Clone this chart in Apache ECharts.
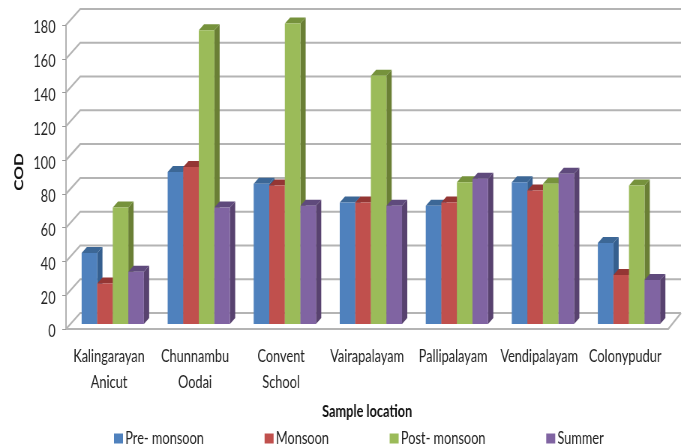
<!DOCTYPE html>
<html>
<head>
<meta charset="utf-8">
<style>
  html, body { margin: 0; padding: 0; background: #fff; overflow: hidden; }
  /* 原图被横向压缩过，这里整体压缩画布让文字也一起变窄 */
  #chart { width: 915px; height: 448px; transform: scaleX(0.75); transform-origin: 0 0; }
</style>
</head>
<body>
<div id="chart"></div>
<script src="https://cdn.jsdelivr.net/npm/echarts@6/dist/echarts.min.js"></script>
<script>
const locations = ['Kalingarayan\nAnicut', 'Chunnambu\nOodai', 'Convent\nSchool', 'Vairapalayam', 'Pallipalayam', 'Vendipalayam', 'Colonypudur'];
const preMonsoon = [42, 90, 83, 72, 70, 84, 48];
const monsoon = [24, 93, 82, 72, 72, 79, 29];
const postMonsoon = [69, 174, 178, 147, 84, 83, 82];
const summer = [31, 69, 70, 70, 86, 89, 26];
const yTicks = [0, 20, 40, 60, 80, 100, 120, 140, 160, 180];

const FONT = 'Lato, sans-serif';
// 伪 3D：后墙和柱子的纵深偏移（画布像素，横向会再乘 0.75）
const WALL_DX = 19, WALL_DY = 16;
const BAR_DX = 7, BAR_DY = 6, BAR_LIFT = 5, BAR_SHIFT = 5;

function bar3d(seriesIdx, colors) {
  return function (params, api) {
    const center = api.coord([api.value(0), 0]);
    const top = api.coord([api.value(0), api.value(1)]);
    const w = api.size([1, 0])[0] * 0.181;
    const x = center[0] + BAR_SHIFT - 2 * w + seriesIdx * w;
    const yb = center[1] - BAR_LIFT;
    const yt = top[1] - BAR_LIFT;
    return {
      type: 'group',
      children: [
        {
          type: 'polygon',
          shape: { points: [[x + w, yb], [x + w + BAR_DX, yb - BAR_DY], [x + w + BAR_DX, yt - BAR_DY], [x + w, yt]] },
          style: { fill: colors.side },
        },
        {
          type: 'polygon',
          shape: { points: [[x, yt], [x + BAR_DX, yt - BAR_DY], [x + w + BAR_DX, yt - BAR_DY], [x + w, yt]] },
          style: { fill: colors.top },
        },
        { type: 'rect', shape: { x, y: yt, width: w, height: yb - yt }, style: { fill: colors.front } },
      ],
    };
  };
}

function wallLines(params, api) {
  const cs = params.coordSys;
  const y = api.coord([0, api.value(1)])[1];
  const children = [
    {
      type: 'polyline',
      shape: { points: [[cs.x, y], [cs.x + WALL_DX, y - WALL_DY], [cs.x + cs.width + WALL_DX - 2, y - WALL_DY]] },
      style: { stroke: '#b4b4b4', lineWidth: 2, fill: null },
    },
  ];
  if (api.value(1) === 0) {
    children.push({
      type: 'line',
      shape: { x1: cs.x + cs.width, y1: y, x2: cs.x + cs.width + WALL_DX - 2, y2: y - WALL_DY },
      style: { stroke: '#b4b4b4', lineWidth: 2 },
    });
  }
  return { type: 'group', children };
}

function barSeries(name, data, idx, colors) {
  return {
    type: 'custom',
    name,
    z: 3 + idx,
    clip: false,
    itemStyle: { color: colors.front },
    renderItem: bar3d(idx, colors),
    encode: { x: 0, y: 1 },
    data: data.map((v, i) => [i, v]),
  };
}

const chart = echarts.init(document.getElementById('chart'), null, { renderer: 'canvas' });
chart.setOption({
  backgroundColor: '#fff',
  animation: false,
  grid: { left: 88, right: 24, top: 25, bottom: 119, outerBoundsMode: 'none' },
  legend: {
    data: ['Pre- monsoon', 'Monsoon', 'Post- monsoon', 'Summer'],
    left: 147,
    top: 425,
    icon: 'rect',
    itemWidth: 12,
    itemHeight: 10,
    itemGap: 81,
    textStyle: { fontFamily: FONT, fontSize: 17, color: '#222', padding: [0, 0, 0, -2] },
  },
  xAxis: {
    type: 'category',
    data: locations,
    name: 'Sample location',
    nameLocation: 'middle',
    nameGap: 74,
    nameTextStyle: { fontFamily: FONT, fontWeight: 'bold', fontSize: 17, color: '#111' },
    axisLine: { lineStyle: { color: '#b4b4b4', width: 2 } },
    axisTick: { show: false },
    axisLabel: { interval: 0, margin: 15, lineHeight: 26, fontFamily: FONT, fontSize: 17, color: '#222' },
  },
  yAxis: {
    type: 'value',
    min: 0,
    max: 180,
    interval: 20,
    name: 'COD',
    nameLocation: 'middle',
    nameGap: 52,
    nameTextStyle: { fontFamily: FONT, fontWeight: 'bold', fontSize: 17, color: '#111', padding: [0, 0, 0, 10] },
    axisLine: { show: true, lineStyle: { color: '#b4b4b4', width: 2 } },
    axisTick: { show: true, length: 5, lineStyle: { color: '#9a9a9a' } },
    axisLabel: { margin: 14, fontFamily: FONT, fontSize: 17, color: '#222', verticalAlign: 'top', lineHeight: 6 },
    splitLine: { show: false },
  },
  series: [
    {
      type: 'custom',
      name: 'wall',
      z: 1,
      clip: false,
      silent: true,
      renderItem: wallLines,
      encode: { x: 0, y: 1 },
      data: yTicks.map((v) => [0, v]),
    },
    barSeries('Pre- monsoon', preMonsoon, 0, { front: '#4f81bd', top: '#3c6796', side: '#355f8f' }),
    barSeries('Monsoon', monsoon, 1, { front: '#c0504d', top: '#943634', side: '#8f3b38' }),
    barSeries('Post- monsoon', postMonsoon, 2, { front: '#9bbb59', top: '#76923c', side: '#6a7f35' }),
    barSeries('Summer', summer, 3, { front: '#8064a2', top: '#5f4a7c', side: '#58426f' }),
  ],
});
</script>
</body>
</html>
